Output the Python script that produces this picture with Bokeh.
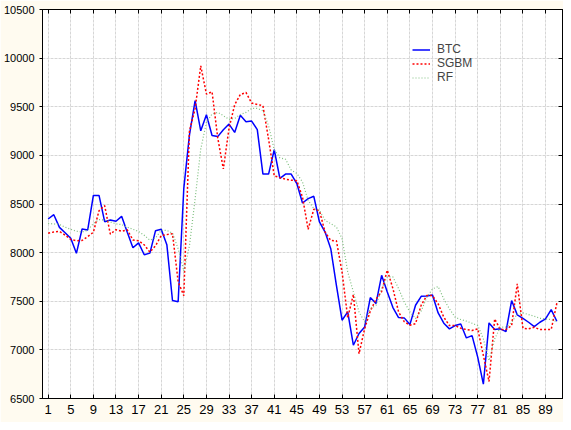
from bokeh.plotting import figure
from bokeh.models import FixedTicker, LinearAxis, Legend, LegendItem
from bokeh.embed import file_html
from bokeh.resources import INLINE

days = list(range(1, 92))

btc = [8346, 8390, 8260, 8205, 8147, 7993, 8243, 8233, 8588, 8588,
       8318, 8336, 8322, 8373, 8210, 8050, 8100, 7978, 7995, 8226,
       8240, 8082, 7508, 7495, 8660, 9210, 9562, 9253, 9418, 9205,
       9193, 9264, 9322, 9236, 9412, 9346, 9353, 9264, 8808, 8808,
       9058, 8764, 8808, 8808, 8710, 8510, 8555, 8579, 8315, 8212,
       8041, 7664, 7305, 7390, 7048, 7168, 7236, 7538, 7476, 7767,
       7596, 7435, 7332, 7329, 7260, 7459, 7551, 7555, 7565, 7380,
       7274, 7216, 7250, 7267, 7123, 7147, 6925, 6647, 7277, 7209,
       7216, 7188, 7507, 7360, 7325, 7284, 7240, 7284, 7318, 7414,
       7294]

sgbm = [8200, 8212, 8218, 8180, 8135, 8123, 8125, 8165, 8209, 8431,
        8483, 8190, 8236, 8220, 8235, 8130, 8123, 8080, 8005, 8070,
        8175, 8185, 8195, 7700, 7558, 9250, 9480, 9921, 9630, 9654,
        9180, 8860, 9280, 9520, 9625, 9647, 9538, 9524, 9510, 9166,
        8790, 8772, 8755, 8745, 8740, 8570, 8240, 8446, 8430, 8210,
        8125, 8122, 7800, 7330, 7570, 6960, 7220, 7400, 7520, 7600,
        7820, 7630, 7390, 7290, 7253, 7270, 7460, 7560, 7558, 7473,
        7336, 7250, 7250, 7223, 7209, 7199, 7216, 6942, 6675, 7318,
        7209, 7209, 7250, 7678, 7223, 7216, 7233, 7209, 7209, 7209,
        7480]

rf = [8300, 8295, 8290, 8262, 8240, 8220, 8212, 8230, 8300, 8340,
      8335, 8315, 8296, 8288, 8262, 8240, 8218, 8178, 8128, 8150,
      8230, 8228, 8200, 8040, 7810, 8072, 8551, 9065, 9339, 9425,
      9442, 9408, 9370, 9380, 9420, 9442, 9483, 9483, 9459, 9305,
      9060, 8975, 8960, 8850, 8815, 8726, 8538, 8452, 8435, 8332,
      8298, 8264, 8144, 7802, 7596, 7390, 7287, 7424, 7459, 7630,
      7750, 7750, 7630, 7493, 7390, 7322, 7400, 7541, 7627, 7651,
      7524, 7421, 7336, 7312, 7295, 7274, 7250, 7113, 6890, 7113,
      7233, 7233, 7284, 7370, 7380, 7363, 7346, 7325, 7318, 7312,
      7290]

x_ticks = list(range(1, 92, 4))
y_ticks = list(range(6500, 10501, 500))

FONT = "Liberation Sans"
BG = "#FFFBF0"

p = figure(width=563, height=422, x_range=(0, 92), y_range=(6500, 10500),
           output_backend="svg", toolbar_location=None,
           min_border_left=42, min_border_right=1, min_border_top=9,
           min_border_bottom=24, background_fill_color="white",
           border_fill_color=BG, outline_line_color="black")

p.xaxis.ticker = FixedTicker(ticks=x_ticks)
p.yaxis.ticker = FixedTicker(ticks=y_ticks)
for ax in (p.xaxis[0], p.yaxis[0]):
    ax.axis_line_color = "black"
    ax.major_tick_line_color = "black"
    ax.minor_tick_line_color = None
    ax.major_label_text_font = FONT
    ax.major_label_text_color = "black"
p.xaxis.major_tick_in = 4
p.xaxis.major_tick_out = 0
p.xaxis.major_label_standoff = 6
p.xaxis.major_label_text_font_size = "13px"
p.yaxis.major_tick_in = 0
p.yaxis.major_tick_out = 3
p.yaxis.major_label_standoff = 5
p.yaxis.major_label_text_font_size = "11px"

# frame ticks on the top and right edges, without labels
top_ax = LinearAxis(ticker=FixedTicker(ticks=x_ticks), major_label_text_font_size="0px",
                    major_label_text_color=None,
                    major_tick_in=4, major_tick_out=0, major_label_standoff=0,
                    minor_tick_line_color=None, axis_line_color="black")
right_ax = LinearAxis(ticker=FixedTicker(ticks=y_ticks), major_label_text_font_size="0px",
                      major_label_text_color=None,
                      major_tick_in=4, major_tick_out=0, major_label_standoff=0,
                      minor_tick_line_color=None, axis_line_color="black")
p.add_layout(top_ax, "above")
p.add_layout(right_ax, "right")

p.grid.grid_line_color = "#d6d6d6"
p.grid.grid_line_dash = "3 1"
p.grid.grid_line_width = 1

r_btc = p.line(days, btc, line_color="#0000FF", line_width=1.5)
r_sgbm = p.line(days, sgbm, line_color="#FF0000", line_width=1.5, line_dash="2 2")
r_rf = p.line(days, rf, line_color="#7FBF7F", line_width=1.2, line_dash="1 2")

legend = Legend(items=[LegendItem(label="BTC", renderers=[r_btc]),
                       LegendItem(label="SGBM", renderers=[r_sgbm]),
                       LegendItem(label="RF", renderers=[r_rf])],
                location=(370, 314), padding=0, margin=0, spacing=0,
                label_height=13, glyph_height=13, glyph_width=18,
                label_standoff=7, label_text_font=FONT,
                label_text_font_size="12px", background_fill_alpha=0,
                border_line_alpha=0)
p.add_layout(legend, "center")

open("out.html", "w").write(file_html(p, INLINE))
